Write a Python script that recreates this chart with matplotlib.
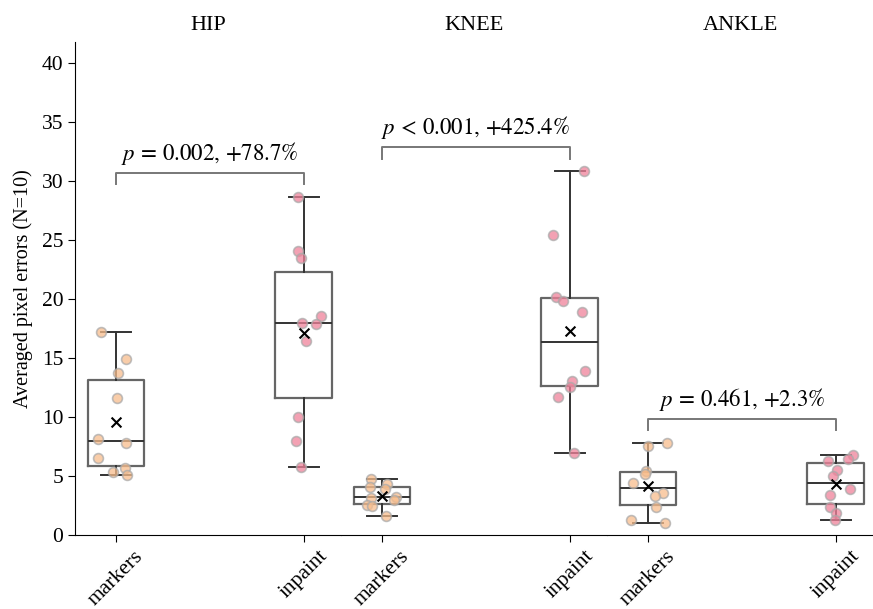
import matplotlib
matplotlib.use("Agg")
import matplotlib.pyplot as plt
import numpy as np

joints = ["HIP", "KNEE", "ANKLE"]
conditions = ["markers", "inpaint"]

hip_markers = [17.18, 14.9, 13.7, 11.6, 8.16, 7.82, 6.5, 5.37, 5.65, 5.06]
hip_inpaint = [28.67, 24.1, 23.5, 18.6, 18.0, 17.9, 16.44, 10.03, 7.94, 5.79]
knee_markers = [4.75, 4.1, 4.32, 3.93, 3.11, 3.25, 2.97, 2.54, 2.46, 1.61]
knee_inpaint = [30.87, 25.42, 20.2, 19.86, 18.87, 13.92, 13.02, 12.52, 11.69, 6.92]
ankle_markers = [7.54, 7.82, 5.45, 5.14, 4.45, 3.56, 3.27, 2.34, 1.3, 0.99]
ankle_inpaint = [6.81, 6.44, 6.27, 5.51, 5.0, 3.87, 3.42, 2.34, 1.89, 1.27]

# horizontal jitter of the dots (in pixels)
hip_markers_jit = [-15.3, 9.7, 1.7, 1.0, -18.3, 10.0, -18.3, -3.7, 9.0, 11.0]
hip_inpaint_jit = [-5.7, -5.3, -3.0, 17.0, -1.7, 12.7, 2.0, -5.3, -7.3, -2.7]
knee_markers_jit = [-11.0, -12.7, 5.0, 2.7, -11.7, 13.3, 11.7, -15.0, -10.0, 4.0]
knee_inpaint_jit = [14.0, -17.0, -13.3, -6.3, 12.7, 15.3, 2.7, 0.3, -11.7, 4.3]
ankle_markers_jit = [-0.3, 18.7, -2.0, -3.3, -15.7, 14.7, 6.3, 7.3, -17.3, 16.7]
ankle_inpaint_jit = [17.0, 12.0, -7.7, 1.7, -2.3, 14.0, -5.7, -6.0, 0.3, -1.0]

p_labels = [r"$p\,=\,0.002,\,{+}78.7\%$", r"$p\,<\,0.001,\,{+}425.4\%$", r"$p\,=\,0.461,\,{+}2.3\%$"]

data = [(hip_markers, hip_inpaint), (knee_markers, knee_inpaint), (ankle_markers, ankle_inpaint)]
jitter = [(hip_markers_jit, hip_inpaint_jit), (knee_markers_jit, knee_inpaint_jit),
          (ankle_markers_jit, ankle_inpaint_jit)]

plt.rcParams["font.family"] = "serif"
plt.rcParams["font.serif"] = ["Liberation Serif", "DejaVu Serif"]
plt.rcParams["mathtext.fontset"] = "stix"

colors = ["#f8bd8c", "#f0829a"]
px_per_unit = 187.3

fig = plt.figure(figsize=(8.73, 6.09), dpi=100)
W, H = 873.0, 609.0
left, bottom, top = 75.0, 535.0, 42.0
width = 266.0

for i, joint in enumerate(joints):
    ax = fig.add_axes([(left + i * width) / W, 1 - bottom / H, width / W, (bottom - top) / H])
    for j in range(2):
        vals = np.array(data[i][j])
        ax.boxplot(vals, positions=[j], widths=0.30, showfliers=False, whis=(0, 100),
                   boxprops=dict(color="#666666", linewidth=1.6),
                   medianprops=dict(color="#333333", linewidth=1.4),
                   whiskerprops=dict(color="#333333", linewidth=1.4),
                   capprops=dict(color="#333333", linewidth=1.4),
                   capwidths=0.16)
        xs = j + np.array(jitter[i][j]) / px_per_unit
        ax.scatter(xs, vals, s=50, color=colors[j], alpha=0.75, edgecolors="#aaaaaa",
                   linewidths=1.2, zorder=3)
        ax.scatter([j], [vals.mean()], marker="x", s=50, color="black", linewidths=1.5, zorder=4)

    ymax = max(max(data[i][0]), max(data[i][1]))
    yb = ymax + 2.0
    ax.plot([0, 0, 1, 1], [yb - 0.95, yb, yb, yb - 0.95], color="#777777", linewidth=1.4)
    ax.text(0.5, yb + 0.55, p_labels[i], ha="center", va="bottom", fontsize=16.5)

    ax.set_xlim(-0.22, 1.2)
    ax.set_ylim(0, 41.8)
    ax.set_xticks([0, 1])
    ax.set_xticklabels(conditions, rotation=45, fontsize=15.5)
    ax.tick_params(axis="x", length=5)
    ax.set_title(joint, fontsize=16, pad=9)
    ax.spines["top"].set_visible(False)
    ax.spines["right"].set_visible(False)
    if i == 0:
        ax.set_yticks(range(0, 41, 5))
        ax.tick_params(axis="y", labelsize=15.5, length=5)
        ax.set_ylabel("Averaged pixel errors (N=10)", fontsize=14.5, labelpad=6)
    else:
        ax.spines["left"].set_visible(False)
        ax.set_yticks([])

fig.savefig("out.png", dpi=100)
